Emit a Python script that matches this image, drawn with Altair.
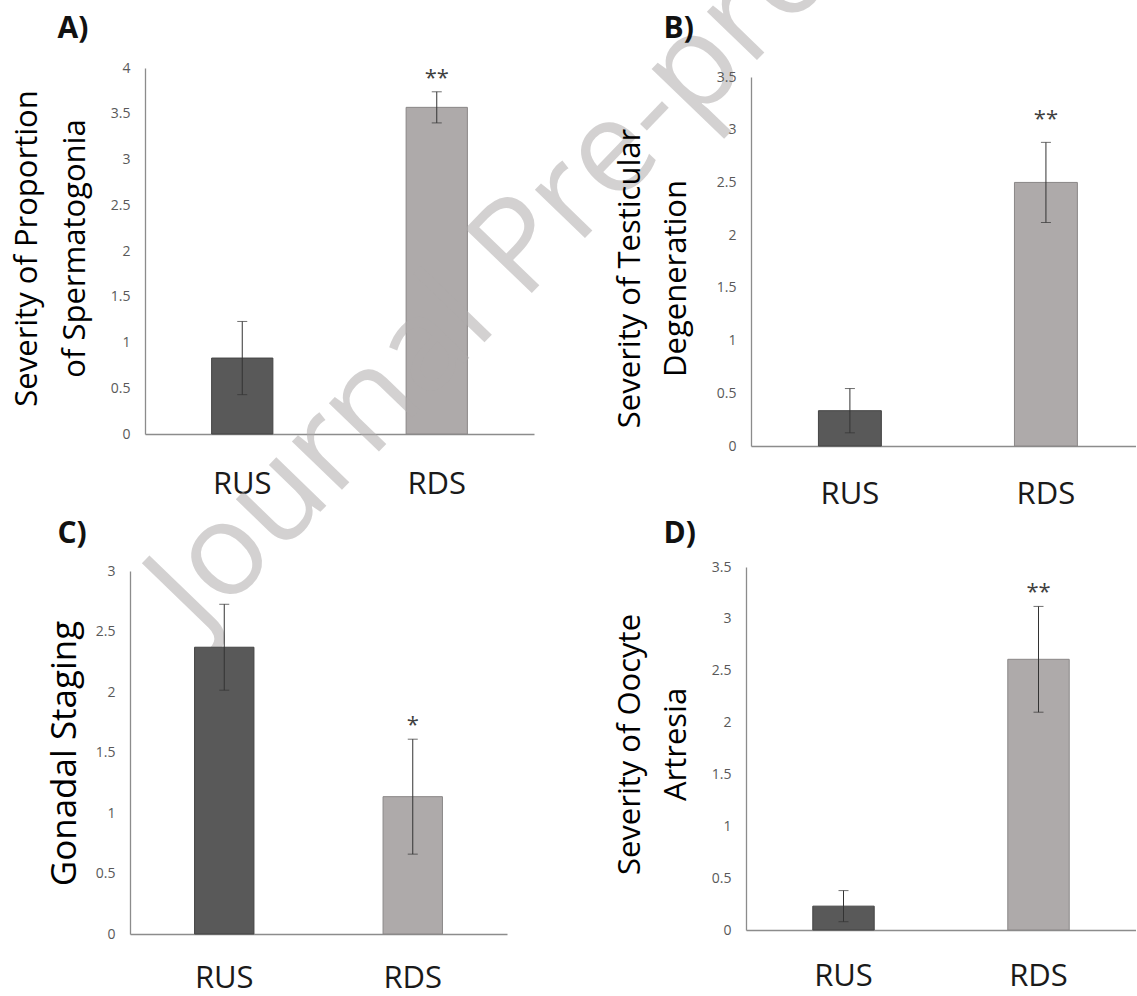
import altair as alt
import pandas as pd

FONT = "Open Sans"

GROUPS = ["RUS", "RDS"]
BAR_FILL = ["#595959", "#aeaaaa"]
BAR_EDGE = ["#454545", "#8a8787"]

# Panel A
A_MEAN = [0.83, 3.57]
A_ERR = [0.40, 0.17]
A_SIG = ["", "**"]
A_TICKS = [0, 0.5, 1, 1.5, 2, 2.5, 3, 3.5, 4]
A_TITLE = ["Severity of Proportion", "of Spermatogonia"]

# Panel B
B_MEAN = [0.335, 2.50]
B_ERR = [0.21, 0.38]
B_SIG = ["", "**"]
B_TICKS = [0, 0.5, 1, 1.5, 2, 2.5, 3, 3.5]
B_TITLE = ["Severity of Testicular", "Degeneration"]

# Panel C
C_MEAN = [2.37, 1.135]
C_ERR = [0.355, 0.475]
C_SIG = ["", "*"]
C_TICKS = [0, 0.5, 1, 1.5, 2, 2.5, 3]
C_TITLE = "Gonadal Staging"

# Panel D
D_MEAN = [0.23, 2.61]
D_ERR = [0.15, 0.51]
D_SIG = ["", "**"]
D_TICKS = [0, 0.5, 1, 1.5, 2, 2.5, 3, 3.5]
D_TITLE = ["Severity of Oocyte", "Artresia"]

LABELS = ["A)", "B)", "C)", "D)"]
WATERMARK = "Journal Pre-proof"


def panel(mean, err, sig, ticks, ytitle, label, lay, title=None):
    df = pd.DataFrame({
        "group": GROUPS,
        "mean": mean,
        "lo": [m - e for m, e in zip(mean, err)],
        "hi": [m + e for m, e in zip(mean, err)],
        "sig": sig,
    })
    xscale = alt.Scale(domain=GROUPS, paddingInner=lay.get("pi", 0.685),
                       paddingOuter=lay.get("po", 0.3425), align=lay.get("al", 0.5),
                       range=lay["xrange"])
    yscale = alt.Scale(domain=[0, ticks[-1]], nice=False, zero=True,
                       range=lay["yrange"])
    xaxis = alt.Axis(
        title=label, labelAngle=0, labelFont=FONT, labelFontSize=31,
        labelColor="#1a1a1a", labelPadding=lay["xlabpad"], labelBaseline="middle",
        ticks=False, tickSize=0, domainColor="#8c8c8c", domainWidth=1.3,
        titleFont=FONT, titleFontSize=30, titleFontWeight="bold", titleColor="#111111",
        titleX=lay["lx"], titleY=lay["ly"], titleAlign="left", titleBaseline="alphabetic",
    )
    yaxis = alt.Axis(
        values=ticks, format="~g", grid=False, ticks=False, tickSize=0,
        labelFont=FONT, labelFontSize=14, labelColor="#595959", labelPadding=15,
        domainColor="#8c8c8c", domainWidth=1.3, offset=lay["yoff"],
        title=ytitle, titleFont=FONT, titleFontSize=lay["tsize"], titleFontWeight="normal",
        titleColor="#000000", titleAngle=270, titleAlign="center",
        titleBaseline="alphabetic", titleX=lay["tx"], titleY=lay["ty"],
        titleLineHeight=lay["tlh"],
    )
    base = alt.Chart(df)
    xe = alt.X("group:N", sort=GROUPS, scale=xscale, axis=xaxis)
    bars = base.mark_bar(strokeWidth=1).encode(
        x=xe,
        y=alt.Y("mean:Q", scale=yscale, axis=yaxis),
        color=alt.Color("group:N", scale=alt.Scale(domain=GROUPS, range=BAR_FILL), legend=None),
        stroke=alt.Stroke("group:N", scale=alt.Scale(domain=GROUPS, range=BAR_EDGE), legend=None),
    )
    rule = base.mark_rule(color="#333333", strokeWidth=1).encode(
        x=xe, y=alt.Y("lo:Q", scale=yscale, axis=yaxis), y2="hi:Q"
    )
    cap_lo = base.mark_tick(color="#333333", thickness=1, size=10).encode(
        x=xe, y=alt.Y("lo:Q", scale=yscale, axis=yaxis)
    )
    cap_hi = base.mark_tick(color="#333333", thickness=1, size=10).encode(
        x=xe, y=alt.Y("hi:Q", scale=yscale, axis=yaxis)
    )
    stars = base.mark_text(font=FONT, fontSize=22, color="#404040", baseline="middle",
                           dy=lay["sdy"]).encode(
        x=xe, y=alt.Y("hi:Q", scale=yscale, axis=yaxis), text="sig:N"
    )
    props = dict(width=lay["w"], height=lay["h"])
    if title is not None:
        props["title"] = title
    return alt.layer(bars, rule, cap_lo, cap_hi, stars).properties(**props)


# light watermark; its tint equals the light bar colour so the bar is unchanged beneath it
watermark_title = alt.TitleParams(
    text=WATERMARK, angle=314, font=FONT, fontSize=130, fontWeight="normal",
    color="rgba(174,170,170,0.54)", anchor="start", frame="group", orient="bottom",
    align="left", baseline="alphabetic", offset=0, dx=-50, dy=146, limit=3000,
)

pA = panel(A_MEAN, A_ERR, A_SIG, A_TICKS, A_TITLE, LABELS[0], dict(
    w=404, h=366, xrange=[15, 404], yrange=[366, 0], yoff=-15,
    tx=-109, ty=180, tsize=31, tlh=48, lx=-73, ly=-397, xlabpad=50, sdy=-14,
), title=watermark_title)

pB = panel(B_MEAN, B_ERR, B_SIG, B_TICKS, B_TITLE, LABELS[1], dict(
    w=390, h=378, xrange=[5, 390], yrange=[378, 9], yoff=-5,
    pi=0.679, po=0.3215, al=0.535,
    tx=-112, ty=210, tsize=31, tlh=46, lx=-83, ly=-409, xlabpad=48, sdy=-23,
))

pC = panel(C_MEAN, C_ERR, C_SIG, C_TICKS, C_TITLE, LABELS[2], dict(
    w=377, h=367, xrange=[0, 377], yrange=[367, 4], yoff=0,
    tx=-55, ty=186, tsize=35, tlh=40, lx=-73, ly=-392, xlabpad=44, sdy=-14,
))

pD = panel(D_MEAN, D_ERR, D_SIG, D_TICKS, D_TITLE, LABELS[3], dict(
    w=390, h=363, xrange=[0, 390], yrange=[363, 0], yoff=0,
    tx=-107, ty=177, tsize=31, tlh=46, lx=-83, ly=-388, xlabpad=46, sdy=-14,
))

chart = alt.concat(
    pA, pB, pC, pD, columns=2, bounds="flush",
    spacing={"row": 121, "column": 212},
).properties(
    padding={"left": 11, "top": -187, "right": 0, "bottom": 5},
    background="white",
).configure_view(strokeWidth=0)

chart.save("out.html", embed_options={"renderer": "svg", "actions": False})
